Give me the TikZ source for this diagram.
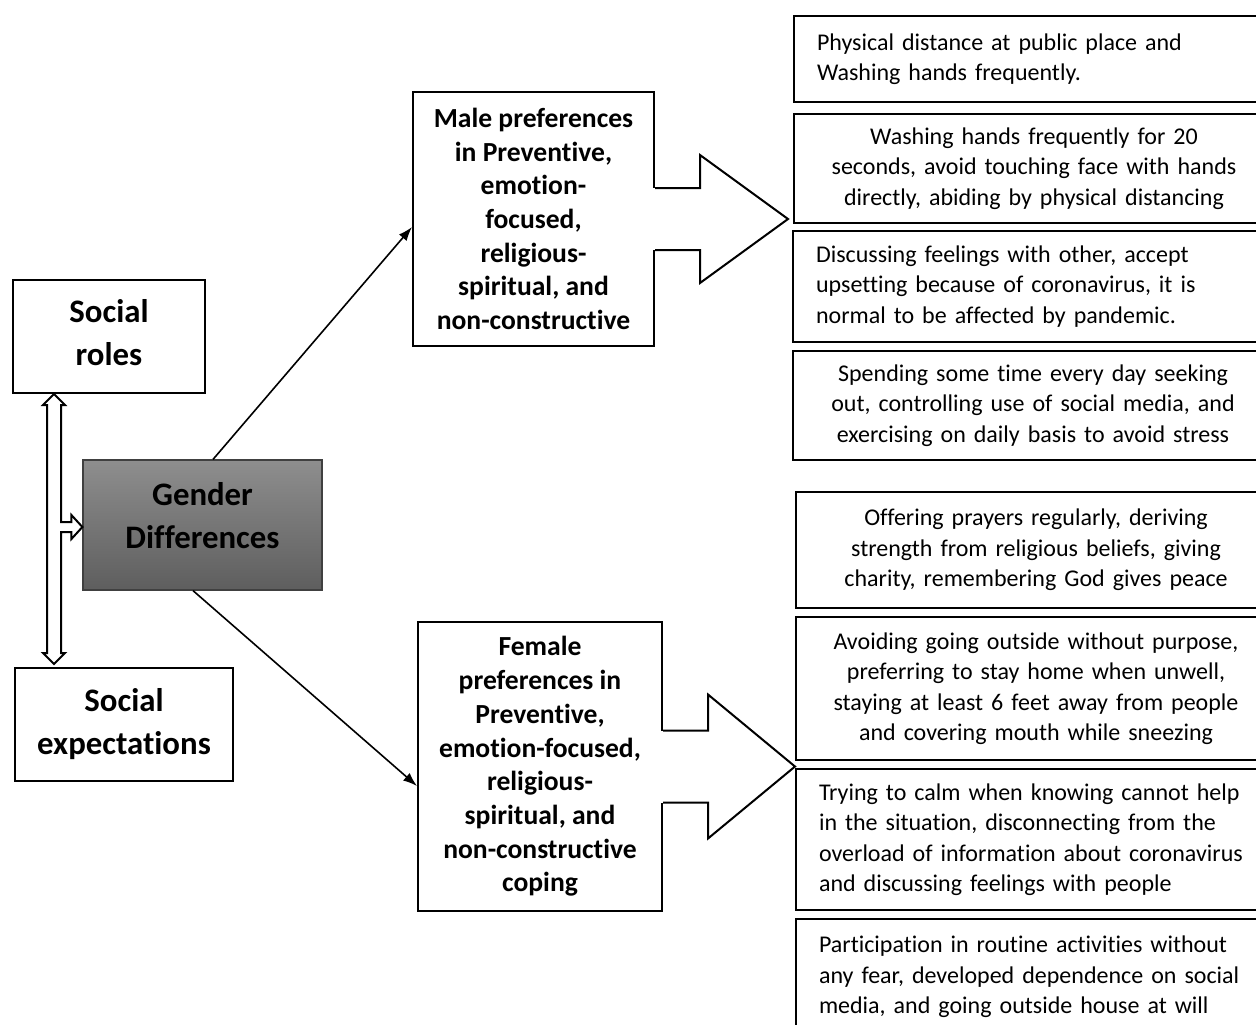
\documentclass[tikz,border=0pt]{standalone}
\usepackage{fontspec}
\setmainfont{Carlito}[Ligatures=NoCommon]
\usetikzlibrary{arrows.meta,positioning,calc}
\definecolor{coretop}{HTML}{8E8E8E}
\definecolor{corebot}{HTML}{5E5E5E}
% hollow block arrow out of the east side of a box
\newcommand{\blockarrow}[5]{%
	\fill[white] ([shift={(-1pt,#2)}]#1.east) rectangle ([shift={(1pt,-#2)}]#1.east);
	\draw[line width=1pt,line join=miter] ([yshift=#2]#1.east) -- ([shift={(#4,#2)}]#1.east)
		-- ([shift={(#4,#3)}]#1.east) -- ([xshift=#5]#1.east) -- ([shift={(#4,-#3)}]#1.east)
		-- ([shift={(#4,-#2)}]#1.east) -- ([yshift=-#2]#1.east);
}

\begin{document}
\begin{tikzpicture}[x=0.5pt,y=-0.5pt]
		\tikzstyle{factor} = [draw,line width=1pt,align=center,inner sep=0pt,font=\fontsize{16.4}{21.5}\selectfont\bfseries]
		\tikzstyle{core} = [factor,draw=black!75,line width=0.6pt,top color=coretop,bottom color=corebot]
		\tikzstyle{pref} = [draw,line width=1pt,align=center,inner sep=0pt,font=\fontsize{13.8}{16.85}\selectfont\bfseries]
		\tikzstyle{item} = [draw,line width=1pt,anchor=north west,minimum width=240pt,text width=217pt,inner xsep=11pt,inner ysep=0pt,font=\fontsize{12}{15.25}\selectfont]
		\tikzstyle{itemc} = [item,align=center]
		\tikzstyle{iteml} = [item,align=left]
		\tikzstyle{link} = [line width=0.8pt,-{Latex[length=7pt,width=5pt]}]
		\tikzstyle{hollow} = [line width=1pt,fill=white,line join=miter]
		\useasboundingbox (0,0) rectangle (1256,1024);
		\clip (0,0) rectangle (1256,1024);
		% Left side
		\node[factor,minimum width=96pt,minimum height=56.5pt,text depth=4pt] (roles) at (109,336.5) {Social\\roles};
		\node[factor,minimum width=109pt,minimum height=56.5pt] (expect) at (124,724.5) {Social\\expectations};
		\node[core,minimum width=119.5pt,minimum height=65pt,text depth=10pt] (gender) at (202.5,525) {Gender\\Differences};
		% Double arrow
		\coordinate (dtop) at ([xshift=-27.5pt]roles.south);
		\coordinate (dbot) at ([shift={(-35pt,1.5pt)}]expect.north);
		\coordinate (dright) at ([yshift=-1pt]gender.west);
		\draw[hollow] (dtop) -- ++(11,11) -- ++(-4,0) |- ([shift={(-11,-5)}]dright) -- ++(0,-7)
			-- (dright) -- ++(-11,12) -- ++(0,-7) -| ([shift={(7,-11)}]dbot) -- ++(4,0)
			-- (dbot) -- ++(-11,-11) -- ++(4,0) -- ([shift={(-7,11)}]dtop) -- ++(-4,0) -- cycle;
		% Preferences
		\node[pref,minimum width=120.5pt,minimum height=127pt] (male) at (533.5,219)
			{Male preferences\\in Preventive,\\emotion-\\focused,\\religious-\\spiritual, and\\non-constructive};
		\node[pref,minimum width=122pt,minimum height=144.5pt] (female) at (540,766.5)
			{Female\\preferences in\\Preventive,\\emotion-focused,\\religious-\\spiritual, and\\non-constructive\\coping};
		\draw[link] ([xshift=5.25pt]gender.north) -- ([yshift=-4pt]male.west);
		\draw[link] ([xshift=-4.75pt]gender.south) -- ([yshift=-9.75pt]female.west);
		\blockarrow{male}{15.5pt}{32pt}{22.5pt}{66.5pt}
		\blockarrow{female}{18pt}{36pt}{22.5pt}{66pt}
		% Male items
		\node[iteml,minimum height=43pt] (m1) at (793,15) {Physical distance at public place and\\Washing hands frequently.};
		\node[itemc,minimum height=54.5pt] (m2) at (793,113) {Washing hands frequently for 20\\seconds, avoid touching face with hands\\directly, abiding by physical distancing};
		\node[iteml,minimum height=55.5pt] (m3) at (792,230) {Discussing feelings with other, accept\\upsetting because of coronavirus, it is\\normal to be affected by pandemic.};
		\node[itemc,minimum height=54.5pt] (m4) at (792,350) {Spending some time every day seeking\\out, controlling use of social media, and\\exercising on daily basis to avoid stress};
		% Female items
		\node[itemc,minimum height=58pt] (f1) at (795,491) {Offering prayers regularly, deriving\\strength from religious beliefs, giving\\charity, remembering God gives peace};
		\node[itemc,minimum height=71.5pt] (f2) at (795,616) {Avoiding going outside without purpose,\\preferring to stay home when unwell,\\staying at least 6 feet away from people\\and covering mouth while sneezing};
		\node[iteml,minimum height=70.5pt] (f3) at (795,768) {Trying to calm when knowing cannot help\\in the situation, disconnecting from the\\overload of information about coronavirus\\and discussing feelings with people};
		\node[iteml,minimum height=58pt] (f4) at (795,918) {Participation in routine activities without\\any fear, developed dependence on social\\media, and going outside house at will};
\end{tikzpicture}
\end{document}
